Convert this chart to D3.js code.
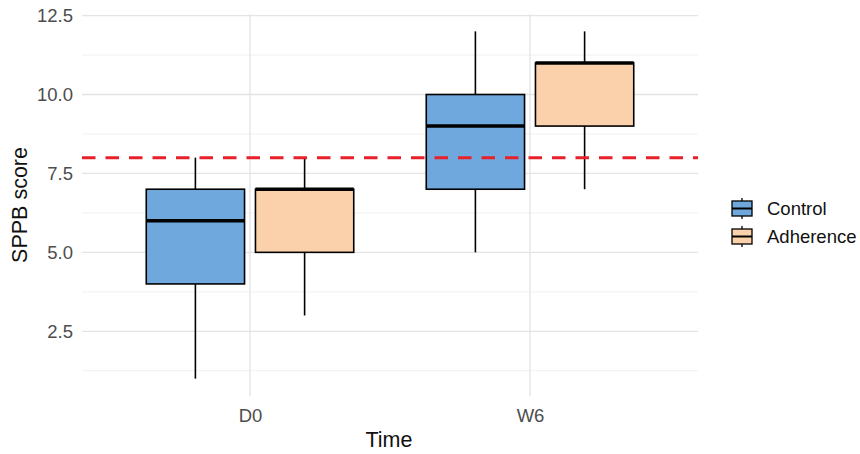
<!DOCTYPE html>
<html>
<head>
<meta charset="utf-8">
<script src="https://cdn.jsdelivr.net/npm/d3@7"></script>
<style>
  body { margin: 0; background: #fff; }
  text { font-family: "Liberation Sans", Arial, sans-serif; }
</style>
</head>
<body>
<div id="chart"></div>
<script>
// data
const times = ["D0", "W6"];
const groups = ["Control", "Adherence"];
const groupColors = ["#6fa8dc", "#fad1aa"];
// [time, min, q1, median, q3, max]
const control = [
  ["D0", 1, 4, 6, 7, 8],
  ["W6", 5, 7, 9, 10, 12]
];
const adherence = [
  ["D0", 3, 5, 7, 7, 8],
  ["W6", 7, 9, 11, 11, 12]
];
const yTicks = [2.5, 5.0, 7.5, 10.0, 12.5];
const cutoff = 8;

const boxes = [];
control.forEach(d => boxes.push({ time: d[0], group: "Control", min: d[1], q1: d[2], med: d[3], q3: d[4], max: d[5] }));
adherence.forEach(d => boxes.push({ time: d[0], group: "Adherence", min: d[1], q1: d[2], med: d[3], q3: d[4], max: d[5] }));

const W = 860, H = 454;
const panel = { left: 82, right: 698, top: 14, bottom: 396 };

const svg = d3.select("#chart").append("svg")
  .attr("width", W).attr("height", H);

// discrete x with ggplot-like 0.6 expansion
const step = 280;
const x = d3.scalePoint().domain(times)
  .range([panel.left + 0.6 * step, panel.right - 0.6 * step]);
const xg = d3.scaleBand().domain(groups).range([-0.39 * step, 0.39 * step]).paddingInner(0.1).paddingOuter(0.05);

const y = d3.scaleLinear().domain([0.45, 12.55]).range([panel.bottom, panel.top]);

// minor grid
const minor = [1.25, 3.75, 6.25, 8.75, 11.25];
svg.append("g").selectAll("line").data(minor).enter().append("line")
  .attr("x1", panel.left).attr("x2", panel.right)
  .attr("y1", d => y(d)).attr("y2", d => y(d))
  .attr("stroke", "#f0f0f0").attr("stroke-width", 1);

// major grid
svg.append("g").selectAll("line").data(yTicks).enter().append("line")
  .attr("x1", panel.left).attr("x2", panel.right)
  .attr("y1", d => y(d)).attr("y2", d => y(d))
  .attr("stroke", "#e4e4e4").attr("stroke-width", 1.3);
svg.append("g").selectAll("line").data(times).enter().append("line")
  .attr("x1", d => x(d)).attr("x2", d => x(d))
  .attr("y1", panel.top).attr("y2", panel.bottom)
  .attr("stroke", "#e4e4e4").attr("stroke-width", 1.3);

// axes (text only, like theme_minimal)
const yAxis = svg.append("g").attr("transform", `translate(${panel.left - 9},0)`)
  .call(d3.axisLeft(y).tickValues(yTicks).tickFormat(d3.format(".1f")).tickSize(0));
yAxis.select(".domain").remove();
yAxis.selectAll("text").attr("fill", "#4d4d4d").attr("font-size", 18.5).attr("x", 0);

const xAxis = svg.append("g").attr("transform", `translate(0,${panel.bottom + 8})`)
  .call(d3.axisBottom(x).tickSize(0));
xAxis.select(".domain").remove();
xAxis.selectAll("text").attr("fill", "#4d4d4d").attr("font-size", 18.5).attr("dy", "0.82em");

// boxes
const bw = xg.bandwidth();
const gBox = svg.append("g").selectAll("g").data(boxes).enter().append("g")
  .attr("transform", d => `translate(${x(d.time) + xg(d.group)},0)`);

gBox.append("line")
  .attr("x1", bw / 2).attr("x2", bw / 2)
  .attr("y1", d => y(d.max)).attr("y2", d => y(d.q3))
  .attr("stroke", "#000").attr("stroke-width", 1.6);
gBox.append("line")
  .attr("x1", bw / 2).attr("x2", bw / 2)
  .attr("y1", d => y(d.q1)).attr("y2", d => y(d.min))
  .attr("stroke", "#000").attr("stroke-width", 1.6);
gBox.append("rect")
  .attr("x", 0).attr("width", bw)
  .attr("y", d => y(d.q3)).attr("height", d => y(d.q1) - y(d.q3))
  .attr("fill", d => groupColors[groups.indexOf(d.group)])
  .attr("stroke", "#000").attr("stroke-width", 1.6);
gBox.append("line")
  .attr("x1", 0).attr("x2", bw)
  .attr("y1", d => y(d.med)).attr("y2", d => y(d.med))
  .attr("stroke", "#000").attr("stroke-width", 3.5);

// cutoff line
svg.append("line")
  .attr("x1", panel.left).attr("x2", panel.right)
  .attr("y1", y(cutoff)).attr("y2", y(cutoff))
  .attr("stroke", "#e8202a").attr("stroke-width", 3)
  .attr("stroke-dasharray", "13.5,10");

// axis titles
svg.append("text")
  .attr("x", 389).attr("y", 447)
  .attr("text-anchor", "middle").attr("font-size", 21.5).attr("fill", "#111")
  .text("Time");
svg.append("text")
  .attr("transform", `translate(27,${(panel.top + panel.bottom) / 2}) rotate(-90)`)
  .attr("text-anchor", "middle").attr("font-size", 21.5).attr("fill", "#111")
  .text("SPPB score");

// legend
const legend = svg.append("g").attr("transform", "translate(730,198)");
const items = legend.selectAll("g").data(groups).enter().append("g")
  .attr("transform", (d, i) => `translate(0,${i * 28})`);
items.append("line")
  .attr("x1", 12).attr("x2", 12).attr("y1", 0).attr("y2", 21)
  .attr("stroke", "#000").attr("stroke-width", 1.3);
items.append("rect")
  .attr("x", 2).attr("y", 3).attr("width", 20).attr("height", 15)
  .attr("fill", (d, i) => groupColors[i])
  .attr("stroke", "#000").attr("stroke-width", 1.3);
items.append("line")
  .attr("x1", 2).attr("x2", 22).attr("y1", 10.5).attr("y2", 10.5)
  .attr("stroke", "#000").attr("stroke-width", 2);
items.append("text")
  .attr("x", 37).attr("y", 11).attr("dy", "0.35em")
  .attr("font-size", 18.5).attr("fill", "#111")
  .text(d => d);
</script>
</body>
</html>
